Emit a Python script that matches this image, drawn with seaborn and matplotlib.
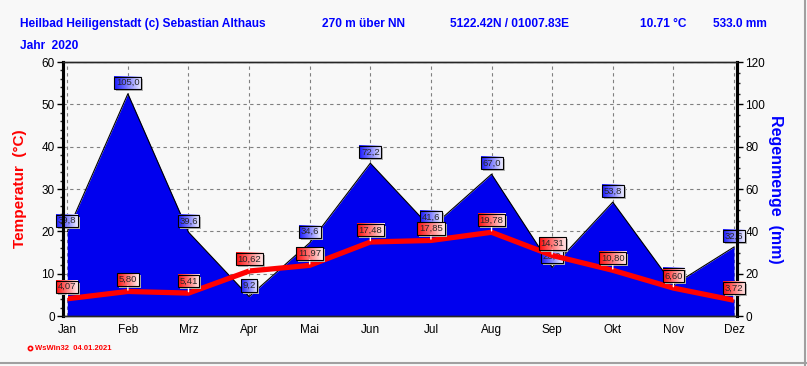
import numpy as np
import pandas as pd
import matplotlib
matplotlib.use("Agg")
import matplotlib.pyplot as plt
from matplotlib.lines import Line2D
from matplotlib.patches import Rectangle
from matplotlib.transforms import IdentityTransform
from matplotlib.ticker import MultipleLocator
import seaborn as sns

# -------------------------------
# Data (WsWin32, Heilbad Heiligenstadt 2020)
# -------------------------------
months = ["Jan", "Feb", "Mrz", "Apr", "Mai", "Jun",
          "Jul", "Aug", "Sep", "Okt", "Nov", "Dez"]
temperature = [4.07, 5.80, 5.41, 10.62, 11.97, 17.48,
               17.85, 19.78, 14.31, 10.80, 6.60, 3.72]
rain = [39.8, 105.0, 39.6, 9.2, 34.6, 72.2,
        41.6, 67.0, 23.0, 53.8, 14.6, 32.6]

df = pd.DataFrame({"Monat": months, "Temp": temperature, "Regen": rain})
df["x"] = np.arange(len(df))

sns.set_style("white")
plt.rcParams["font.family"] = ["Liberation Sans", "DejaVu Sans"]

BG = "#F8F8F8"
fig = plt.figure(figsize=(8.07, 3.66), dpi=100, facecolor=BG)
ax_r = fig.add_axes([0.0781, 0.1366, 0.8352, 0.694])
ax_t = ax_r.twinx()
ax_r.set_facecolor(BG)

# -------------------------------
# Rain area (right axis)
# -------------------------------
ax_r.fill_between(df["x"], df["Regen"], 0, color="#0000EE", lw=0, zorder=2)
sns.lineplot(data=df, x="x", y="Regen", ax=ax_r, color="black", lw=0.8, zorder=3)
ax_r.set_ylim(0, 120)
ax_r.set_xlim(-0.07, 11.05)
ax_r.set_axisbelow(True)
ax_r.grid(True, ls=(0, (3, 3)), color="#808080", lw=0.8)
ax_r.yaxis.tick_right()
ax_r.yaxis.set_label_position("right")
ax_r.yaxis.set_major_locator(MultipleLocator(20))
ax_r.yaxis.set_minor_locator(MultipleLocator(5))
ax_r.set_xticks(df["x"])
ax_r.set_xticklabels(months)
ax_r.xaxis.set_minor_locator(MultipleLocator(0.25))
ax_r.set_xlabel("")
ax_r.set_ylabel("")

# -------------------------------
# Temperature line (left axis)
# -------------------------------
sns.lineplot(data=df, x="x", y="Temp", ax=ax_t, color="#FF0000", lw=3.8,
             zorder=3, solid_capstyle="butt")
ax_t.set_ylim(0, 60)
ax_t.set_xlim(-0.07, 11.05)
ax_t.yaxis.tick_left()
ax_t.yaxis.set_major_locator(MultipleLocator(10))
ax_t.yaxis.set_minor_locator(MultipleLocator(2))
ax_t.set_xlabel("")
ax_t.set_ylabel("")

for a in (ax_r, ax_t):
    a.tick_params(axis="both", which="major", direction="out", length=4,
                  width=1, labelsize=8.5, colors="black", pad=2)
    a.tick_params(axis="both", which="minor", direction="out", length=2.5, width=1)
    for side in ("left", "right"):
        a.spines[side].set_linewidth(2.2)
        a.spines[side].set_color("black")
    a.spines["top"].set_linewidth(1)
    a.spines["bottom"].set_linewidth(1)
ax_t.tick_params(axis="x", which="both", length=0, labelbottom=False)

# -------------------------------
# Value labels
# -------------------------------
def fmt(v, nd):
    return f"{v:.{nd}f}".replace(".", ",")

rain_labels = []
for xi, v in zip(df["x"], df["Regen"]):
    t = ax_r.annotate(fmt(v, 1), (xi, v), xytext=(0, 11), textcoords="offset pixels",
                      ha="center", va="center", fontsize=6.8, zorder=7,
                      annotation_clip=False,
                      bbox=dict(boxstyle="square,pad=0.18", fc="none", ec="black", lw=0.8))
    rain_labels.append(t)

temp_labels = []
for xi, v in zip(df["x"], df["Temp"]):
    t = ax_t.annotate(fmt(v, 2), (xi, v), xytext=(0, 12), textcoords="offset pixels",
                      ha="center", va="center", fontsize=6.8, zorder=7,
                      annotation_clip=False,
                      bbox=dict(boxstyle="square,pad=0.18", fc="none", ec="black", lw=0.8),
                      arrowprops=dict(arrowstyle="-", color="white", lw=1,
                                      shrinkA=0, shrinkB=1))
    temp_labels.append(t)

fig.canvas.draw()
renderer = fig.canvas.get_renderer()


def gradient_box(ax, ann, c_left, c_right):
    bb = ann.get_bbox_patch().get_window_extent(renderer)
    ax.add_patch(Rectangle((bb.x0 + 2, bb.y0 - 2), bb.width, bb.height,
                           transform=IdentityTransform(), fc="#B0B0B0",
                           ec="none", zorder=5, clip_on=False))
    inv = ax.transData.inverted()
    (x0, y0), (x1, y1) = inv.transform([[bb.x0, bb.y0], [bb.x1, bb.y1]])
    g = np.linspace(0, 1, 64)[:, None]
    rgb = (1 - g) * np.array(c_left) + g * np.array(c_right)
    ax.imshow(rgb[None, :, :], extent=(x0, x1, y0, y1), aspect="auto",
              zorder=6, clip_on=False, interpolation="bilinear")


for t in rain_labels:
    gradient_box(ax_r, t, (0.1, 0.1, 1.0), (0.93, 0.93, 1.0))
for t in temp_labels:
    gradient_box(ax_t, t, (1.0, 0.05, 0.05), (1.0, 0.93, 0.93))

ax_r.set_xlim(-0.07, 11.05)
ax_r.set_ylim(0, 120)
ax_t.set_xlim(-0.07, 11.05)
ax_t.set_ylim(0, 60)

# -------------------------------
# Titles and axis labels
# -------------------------------
blue = "#0000FF"
head = [(20, "Heilbad Heiligenstadt (c) Sebastian Althaus"),
        (322, "270 m über NN"),
        (450, "5122.42N / 01007.83E"),
        (640, "10.71 °C"),
        (713, "533.0 mm")]
for px, s in head:
    fig.text(px / 807, 1 - 24 / 366, s, color=blue, fontsize=8.6,
             fontweight="bold", ha="left", va="center")
fig.text(20 / 807, 1 - 46 / 366, "Jahr  2020", color=blue, fontsize=8.6,
         fontweight="bold", ha="left", va="center")

fig.text(20 / 807, 1 - 189 / 366, "Temperatur  (°C)", color="#FF0000", fontsize=11,
         fontweight="bold", rotation=90, ha="center", va="center")
fig.text(775 / 807, 1 - 189 / 366, "Regenmenge  (mm)", color=blue, fontsize=11.5,
         fontweight="bold", rotation=270, ha="center", va="center")

fig.text(35 / 807, 1 - 348 / 366, "WsWin32  04.01.2021", color="#FF0000",
         fontsize=5.5, fontweight="bold", ha="left", va="center")
fig.add_artist(Line2D([30 / 807], [1 - 348 / 366], marker="o", ms=3,
                      mfc="white", mec="#FF0000", mew=1.2, transform=fig.transFigure))

# window border
fig.add_artist(Line2D([0, 1], [3 / 366, 3 / 366], color="#A0A0A0", lw=1.5,
                      transform=fig.transFigure))
fig.add_artist(Line2D([805 / 807, 805 / 807], [0, 1], color="#A0A0A0", lw=1.5,
                      transform=fig.transFigure))

fig.savefig("out.png", dpi=100, facecolor=BG)
